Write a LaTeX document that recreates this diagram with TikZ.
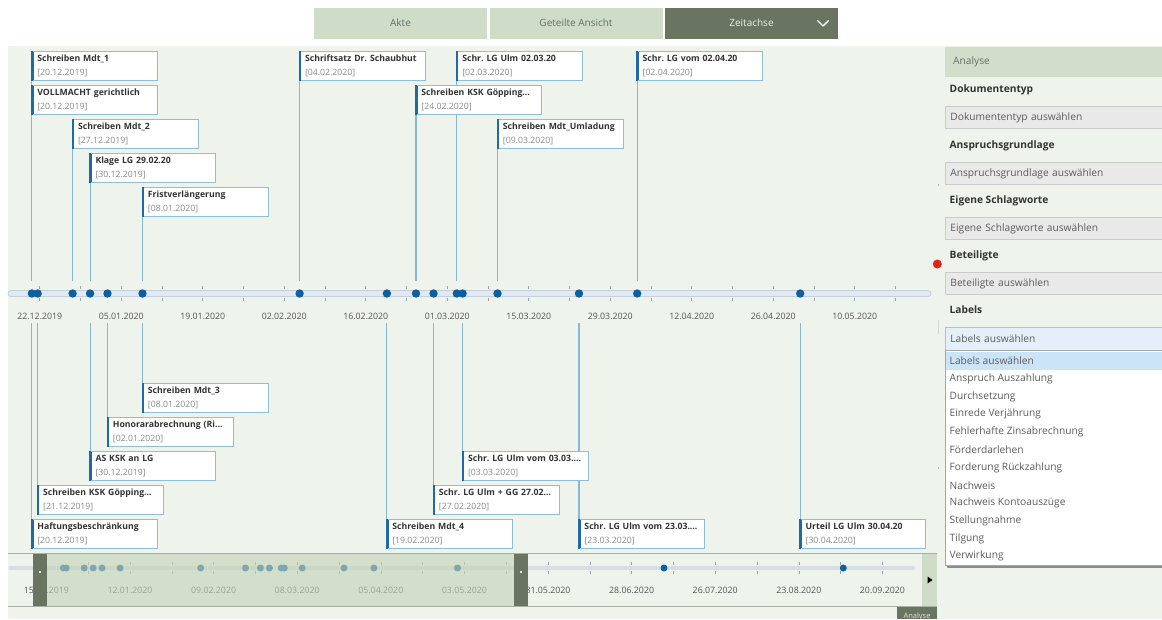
\documentclass[tikz,border=0pt]{standalone}
\usepackage{fontspec}
\setmainfont{Open Sans}
\frenchspacing
\definecolor{bgmain}{HTML}{EEF3EC}
\definecolor{tablight}{HTML}{CFDCC7}
\definecolor{tabdark}{HTML}{6A7561}
\definecolor{tabtext}{HTML}{6B6B6B}
\definecolor{cardborder}{HTML}{8DBFDD}
\definecolor{cardbar}{HTML}{1E6AA8}
\definecolor{connc}{HTML}{86B8D8}
\definecolor{dotc}{HTML}{0D5FA0}
\definecolor{axisfill}{HTML}{E2E9F0}
\definecolor{axisdraw}{HTML}{C3D1DE}
\definecolor{tickc}{HTML}{9AA3AC}
\definecolor{labc}{HTML}{555555}
\definecolor{cardtitle}{HTML}{333333}
\definecolor{carddate}{HTML}{8A8A8A}
\definecolor{selov}{HTML}{C4D3B8}
\definecolor{panelhdr}{HTML}{D2DEC9}
\definecolor{boxfill}{HTML}{E8E9E8}
\definecolor{boxdraw}{HTML}{CBCBCB}
\definecolor{boxtext}{HTML}{5C5C5C}
\definecolor{lblfill}{HTML}{E4EFFA}
\definecolor{lbldraw}{HTML}{9CC6EC}
\definecolor{hilite}{HTML}{CCE4F7}
\definecolor{reddot}{HTML}{E2231A}
\definecolor{sframe}{HTML}{A9AFA5}
\pgfdeclarelayer{bg}
\pgfdeclarelayer{lines}
\pgfsetlayers{bg,lines,main}
\newcommand\cardtxt[2]{\mbox{\bfseries\color{cardtitle}#1}\\\mbox{\color{carddate}[#2]}}
\begin{document}
\begin{tikzpicture}[x=1pt,y=-1pt,
  card/.style={draw=cardborder, line width=0.9pt, fill=white, anchor=north west,
    minimum width=126pt, minimum height=29pt, inner xsep=6pt, inner ysep=0pt,
    text width=114pt, align=left, font=\fontsize{8.7}{14}\selectfont,
    path picture={\fill[cardbar] (path picture bounding box.north west) rectangle ([xshift=2.2pt]path picture bounding box.south west);}},
  conn/.style={draw=connc, line width=1.1pt},
  dot/.style={circle, fill=dotc, inner sep=0pt, minimum size=8.4pt},
  sdot/.style={circle, fill=dotc, inner sep=0pt, minimum size=7pt},
  axlab/.style={font=\fontsize{8.8}{10}\selectfont, text=labc, inner sep=0pt},
  tabbox/.style={minimum width=173pt, minimum height=31pt, inner sep=0pt, font=\fontsize{10}{11}\selectfont},
  head/.style={anchor=west, inner sep=0pt, font=\fontsize{10.2}{12}\bfseries, text=cardtitle},
  selbox/.style={anchor=north west, fill=boxfill, draw=boxdraw, line width=0.8pt, minimum width=222pt, minimum height=22pt, inner xsep=5pt, text width=212pt, align=left, font=\fontsize{10.2}{12}\selectfont, text=boxtext},
  item/.style={anchor=west, inner sep=0pt, font=\fontsize{10.2}{12}\selectfont, text=boxtext},
  handle/.style={fill=tabdark, minimum width=14pt, minimum height=52pt, inner sep=0pt}
]
\useasboundingbox (0,0) rectangle (1162,619);
\begin{pgfonlayer}{bg}
\fill[white] (0,0) rectangle (1162,619);
\fill[bgmain] (8,46) rectangle (1162,619);
\end{pgfonlayer}

% tabs
\node[tabbox, fill=tablight, text=tabtext] (tAkte) at (400.5,23) {Akte};
\node[tabbox, fill=tablight, text=tabtext] (tGeteilt) at (576,23) {Geteilte Ansicht};
\node[tabbox, fill=tabdark, text=white!88!tabdark] (tZeit) at (751.5,23) {Zeitachse};
\draw[white, line width=1.4pt, line cap=round, line join=round] (817.5,20.5) -- (823,26) -- (828.5,20.5);

% axis
\node[draw=axisdraw, fill=axisfill, line width=0.8pt, rounded corners=3pt, minimum width=923pt, minimum height=6pt, inner sep=0pt] (track) at (469.5,293.5) {};
\foreach \x in {39.75,80.5,...,900} {
  \draw[tickc, line width=0.6pt] (\x,286) -- (\x,289);
  \draw[tickc, line width=0.6pt] (\x,298) -- (\x,301);
}
\foreach \n/\x in {d1/31.86,d2/37.68,d3/72.6,d4/90.07,d5/107.5,d6/142.5,d7/299.6,d8/386.9,d9/416.0,d10/433.5,d11/456.8,d12/462.6,d13/497.5,d14/579.0,d15/637.2,d16/800.2}
  \node[dot] (\n) at (\x,293.5) {};
\foreach \l/\x in {22.12.2019/39.75,05.01.2020/121.25,19.01.2020/202.75,02.02.2020/284.25,16.02.2020/365.75,01.03.2020/447.25,15.03.2020/528.75,29.03.2020/610.25,12.04.2020/691.75,26.04.2020/773.25,10.05.2020/854.75}
  \node[axlab] (lab\x) at (\x,316) {\l};

% cards
\node[card] (c1) at (30.9,51) {\cardtxt{Schreiben Mdt\_1}{20.12.2019}};
\node[card] (c2) at (30.9,85) {\cardtxt{VOLLMACHT gerichtlich}{20.12.2019}};
\node[card] (c3) at (71.6,119) {\cardtxt{Schreiben Mdt\_2}{27.12.2019}};
\node[card] (c4) at (89.1,153) {\cardtxt{Klage LG 29.02.20}{30.12.2019}};
\node[card] (c5) at (141.5,187) {\cardtxt{Fristverlängerung}{08.01.2020}};
\node[card] (c6) at (298.6,51) {\cardtxt{Schriftsatz Dr. Schaubhut}{04.02.2020}};
\node[card] (c7) at (455.8,51) {\cardtxt{Schr. LG Ulm 02.03.20}{02.03.2020}};
\node[card] (c8) at (415.0,85) {\cardtxt{Schreiben KSK Göpping...}{24.02.2020}};
\node[card] (c9) at (496.5,119) {\cardtxt{Schreiben Mdt\_Umladung}{09.03.2020}};
\node[card] (c10) at (636.2,51) {\cardtxt{Schr. LG vom 02.04.20}{02.04.2020}};
\node[card] (c11) at (30.9,519) {\cardtxt{Haftungsbeschränkung}{20.12.2019}};
\node[card] (c12) at (36.7,485) {\cardtxt{Schreiben KSK Göpping...}{21.12.2019}};
\node[card] (c13) at (89.1,451) {\cardtxt{AS KSK an LG}{30.12.2019}};
\node[card] (c14) at (106.5,417) {\cardtxt{Honorarabrechnung (Ri...}{02.01.2020}};
\node[card] (c15) at (141.5,383) {\cardtxt{Schreiben Mdt\_3}{08.01.2020}};
\node[card] (c16) at (385.9,519) {\cardtxt{Schreiben Mdt\_4}{19.02.2020}};
\node[card] (c17) at (432.5,485) {\cardtxt{Schr. LG Ulm + GG 27.02...}{27.02.2020}};
\node[card] (c18) at (461.6,451) {\cardtxt{Schr. LG Ulm vom 03.03....}{03.03.2020}};
\node[card] (c19) at (578.0,519) {\cardtxt{Schr. LG Ulm vom 23.03....}{23.03.2020}};
\node[card] (c20) at (799.2,519) {\cardtxt{Urteil LG Ulm 30.04.20}{30.04.2020}};

% connectors (behind cards)
\begin{pgfonlayer}{lines}
\foreach \c/\d in {c1/d1,c2/d1,c3/d3,c4/d4,c5/d6,c6/d7,c7/d11,c8/d9,c9/d13,c10/d15}
  \draw[conn, shorten >=8pt] ([xshift=1pt]\c.south west) -- ([xshift=1pt]\c.south west |- \d.north);
\foreach \c/\d in {c11/d1,c12/d2,c13/d4,c14/d5,c15/d6,c16/d8,c17/d10,c18/d12,c19/d14,c20/d16}
  \draw[conn, shorten >=25pt] ([xshift=1pt]\c.north west) -- ([xshift=1pt]\c.north west |- \d.south);
\end{pgfonlayer}
\foreach \c in {c1,c2,c3,c4,c5,c6,c7,c8,c9,c10,c11,c12,c13,c14,c15,c16,c17,c18,c19,c20}
  \fill[cardbar] ([yshift=0.45pt]\c.north west) rectangle ([xshift=2.2pt,yshift=-0.45pt]\c.south west);

% scrubber
\draw[sframe, line width=1.2pt] (8,553.5) -- (937,553.5);
\draw[sframe, line width=1.2pt] (8,606.5) -- (937,606.5);
\draw[axisfill!90!gray, line width=3.5pt, line cap=round] (10,568) -- (913,568);
\foreach \x in {46.4,88.2,...,900} {
  \draw[tickc, line width=0.6pt] (\x,562) -- (\x,565);
  \draw[tickc, line width=0.6pt] (\x,571) -- (\x,574);
}
\foreach \n/\x in {s1/63.3,s2/66.3,s3/84.2,s4/93.2,s5/102.1,s6/120.1,s7/200.7,s8/245.5,s9/260.4,s10/269.4,s11/281.3,s12/284.3,s13/302.2,s14/344.0,s15/373.9,s16/457.5,s17/664,s18/843.3}
  \node[sdot] (\n) at (\x,568) {};
\foreach \l/\x in {15.12.2019/46.4,12.01.2020/130,09.02.2020/213.6,08.03.2020/297.2,05.04.2020/380.8,03.05.2020/464.4,31.05.2020/548,28.06.2020/631.6,26.07.2020/715.2,23.08.2020/798.8,20.09.2020/882.4}
  \node[axlab] (sl\x) at (\x,590) {\l};
\fill[selov, opacity=0.62] (33,554.2) rectangle (528,605.8);
\node[handle] (hl) at (40.2,580) {};
\node[handle] (hr) at (520.8,580) {};
\fill[white!80!tabdark] (39.4,570.5) rectangle (41,573);
\fill[white!80!tabdark] (520,570.5) rectangle (521.6,573);
\node[fill=tablight, minimum width=15pt, minimum height=52pt, inner sep=0pt] (rb) at (929.5,580) {};
\fill[black] (927.5,576.5) -- (932.5,580) -- (927.5,583.5) -- cycle;
\node[fill=tabdark, minimum width=40pt, minimum height=12pt, inner sep=0pt] (atab) at (917,613) {};
\node[font=\fontsize{7.5}{8}\selectfont, text=white!80!tabdark, inner sep=0pt] (atabt) at (917,617) {Analyse};

% splitter grips
\fill[reddot] (937.3,264) circle (4.5pt);
\fill[gray] (938.5,185) circle (0.7pt);
\fill[gray] (938.5,468) circle (0.7pt);
\foreach \y in {321,323,...,333} \fill[gray] (938.5,\y) circle (0.45pt);

% right panel
\node[fill=panelhdr, anchor=north west, minimum width=222pt, minimum height=30pt, inner xsep=8pt, text width=206pt, align=left, font=\fontsize{10.2}{12}\selectfont, text=tabtext] (ana) at (945,47) {Analyse};
\node[head] (h1) at (949.5,90) {Dokumententyp};
\node[selbox] (b1) at (945,106) {Dokumententyp auswählen};
\node[head] (h2) at (949.5,145.5) {Anspruchsgrundlage};
\node[selbox] (b2) at (945,162) {Anspruchsgrundlage auswählen};
\node[head] (h3) at (949.5,200.5) {Eigene Schlagworte};
\node[selbox] (b3) at (945,217) {Eigene Schlagworte auswählen};
\node[head] (h4) at (949.5,256) {Beteiligte};
\node[selbox] (b4) at (945,272) {Beteiligte auswählen};
\node[head] (h5) at (949.5,310) {Labels};
\node[selbox, fill=lblfill, draw=lbldraw, minimum height=23pt] (b5) at (945,327) {Labels auswählen};
\fill[black!45] (947,353) rectangle (1165,567.5);
\node[fill=white, draw=black!35, line width=0.6pt, anchor=north west, minimum width=222pt, minimum height=215pt, inner sep=0pt] (list) at (945,350) {};
\fill[hilite] (945.6,351.5) rectangle (1163,369.5);
\foreach \t [count=\i] in {Labels auswählen,Anspruch Auszahlung,Durchsetzung,Einrede Verjährung,Fehlerhafte Zinsabrechnung,Förderdarlehen,Forderung Rückzahlung,Nachweis,Nachweis Kontoauszüge,Stellungnahme,Tilgung,Verwirkung}
  \node[item] (it\i) at (949.5,343.3+17.75*\i) {\t};
\end{tikzpicture}
\end{document}
